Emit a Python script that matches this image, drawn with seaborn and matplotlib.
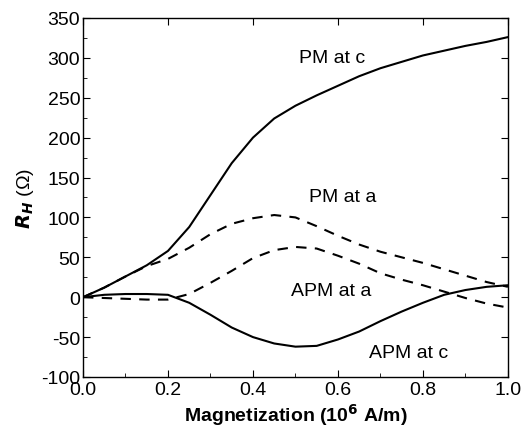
import numpy as np
import pandas as pd
import matplotlib
matplotlib.use('Agg')
import matplotlib.pyplot as plt
import seaborn as sns
from matplotlib.ticker import MultipleLocator

# magnetization (10^6 A/m)
m = [0.0, 0.05, 0.1, 0.15, 0.2, 0.25, 0.3, 0.35, 0.4, 0.45, 0.5,
     0.55, 0.6, 0.65, 0.7, 0.75, 0.8, 0.85, 0.9, 0.95, 1.0]
pm_c = [0, 12, 26, 40, 58, 88, 128, 168, 200, 224, 240,
        253, 265, 277, 287, 295, 303, 309, 315, 320, 326]
pm_a = [0, 12, 26, 39, 48, 62, 79, 92, 99, 103, 100,
        89, 77, 66, 57, 50, 43, 35, 27, 19, 13]
apm_a = [0, -1, -2, -3, -3, 4, 18, 33, 49, 59, 63,
         61, 52, 42, 30, 22, 15, 7, -1, -8, -13]
apm_c = [0, 3, 4, 4, 3, -7, -22, -38, -50, -58, -62,
         -61, -53, -43, -30, -18, -7, 3, 9, 13, 15]

sns.set_style("ticks")
plt.rcParams['font.family'] = ['Liberation Sans', 'DejaVu Sans']
plt.rcParams['axes.unicode_minus'] = False
plt.rcParams['text.color'] = 'black'
plt.rcParams['axes.labelcolor'] = 'black'

fig = plt.figure(figsize=(5.22, 4.31), dpi=100)
ax = fig.add_axes([0.159, 0.123, 0.814, 0.833])

sns.lineplot(x=m, y=pm_c, ax=ax, color='black', lw=1.5)
sns.lineplot(x=m, y=apm_c, ax=ax, color='black', lw=1.5)
sns.lineplot(x=m, y=pm_a, ax=ax, color='black', lw=1.5, linestyle=(0, (5, 4)))
sns.lineplot(x=m, y=apm_a, ax=ax, color='black', lw=1.5, linestyle=(0, (5, 4)))

ax.text(0.587, 300, 'PM at c', fontsize=14, ha='center', va='center')
ax.text(0.61, 126, 'PM at a', fontsize=14, ha='center', va='center')
ax.text(0.585, 9, 'APM at a', fontsize=14, ha='center', va='center')
ax.text(0.767, -69, 'APM at c', fontsize=14, ha='center', va='center')

ax.set_xlim(0, 1.0)
ax.set_ylim(-100, 350)
ax.xaxis.set_major_locator(MultipleLocator(0.2))
ax.xaxis.set_minor_locator(MultipleLocator(0.1))
ax.yaxis.set_major_locator(MultipleLocator(50))
ax.yaxis.set_minor_locator(MultipleLocator(25))
ax.xaxis.set_major_formatter(plt.FormatStrFormatter('%.1f'))
ax.tick_params(which='both', direction='in', labelsize=14, colors='black')
ax.tick_params(which='major', length=5, top=True, right=True)
ax.tick_params(which='minor', length=3)
ax.tick_params(axis='x', pad=3)
ax.tick_params(axis='y', pad=2)
for s in ax.spines.values():
    s.set_color('black')
    s.set_linewidth(1.0)

ax.set_xlabel('Magnetization (10$^\\mathbf{6}$ A/m)', fontsize=14, fontweight='bold', labelpad=2)
ax.set_ylabel(r'$\mathbfit{R}_{\mathbfit{H}}$ (Ω)', fontsize=14, labelpad=4)

fig.savefig('out.png', dpi=100)
